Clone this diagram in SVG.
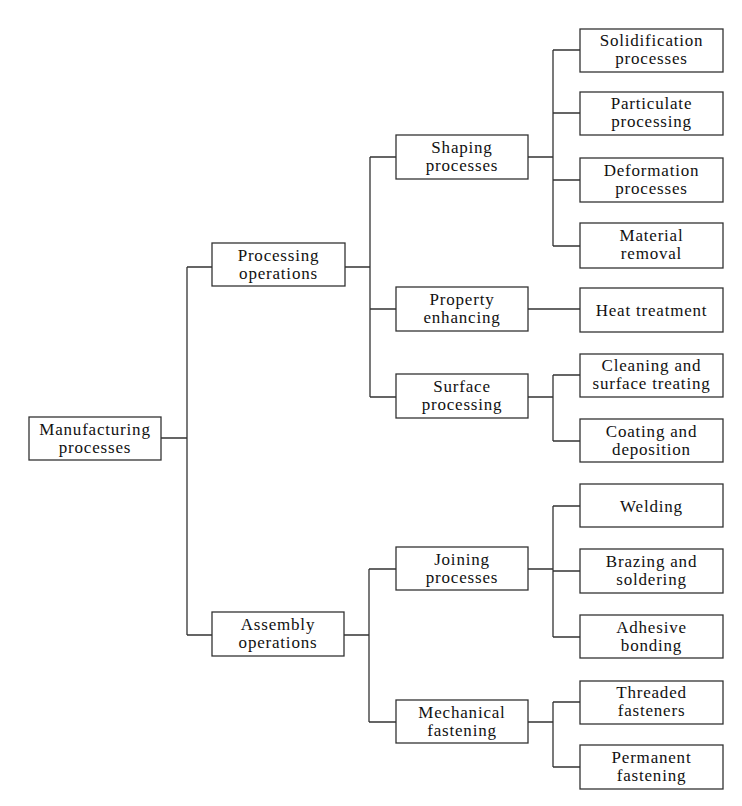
<svg xmlns="http://www.w3.org/2000/svg" width="742" height="806" viewBox="0 0 742 806">
<style>
rect{fill:#fff;stroke:#333;stroke-width:1.3}
line,path{stroke:#333;stroke-width:1.3;fill:none}
text{fill:#111;text-anchor:middle}
</style>
<rect x="0" y="0" width="742" height="806" style="fill:#fff;stroke:none"/>
<g id="connectors">
<path d="M161 438H187M187 267V635M187 267H212M187 635H212"/>
<path d="M345 267H370M370 157V397M370 157H396M370 309H396M370 397H396"/>
<path d="M528 157H553M553 50V246M553 50H580M553 113H580M553 180H580M553 246H580"/>
<path d="M528 309H580"/>
<path d="M528 397H553M553 375V441M553 375H580M553 441H580"/>
<path d="M344 635H369M369 569V722M369 569H396M369 722H396"/>
<path d="M528 569H553M553 506V637M553 506H580M553 571H580M553 637H580"/>
<path d="M528 722H553M553 702V767M553 702H580M553 767H580"/>
</g>
<g font-family="Liberation Serif, Times New Roman, serif" font-size="17" letter-spacing="0.8">
<g id="manufacturing"><rect x="29" y="417" width="132" height="43"/><text x="95" y="435">Manufacturing</text><text x="95" y="453">processes</text></g>
<g id="processing"><rect x="212" y="243" width="133" height="43"/><text x="278.5" y="261">Processing</text><text x="278.5" y="279">operations</text></g>
<g id="assembly"><rect x="212" y="612" width="132" height="44"/><text x="278" y="630">Assembly</text><text x="278" y="648">operations</text></g>
<g id="shaping"><rect x="396" y="135" width="132" height="44"/><text x="462" y="153">Shaping</text><text x="462" y="171">processes</text></g>
<g id="property"><rect x="396" y="287" width="132" height="44"/><text x="462" y="305">Property</text><text x="462" y="323">enhancing</text></g>
<g id="surface"><rect x="396" y="374" width="132" height="44"/><text x="462" y="392">Surface</text><text x="462" y="410">processing</text></g>
<g id="joining"><rect x="396" y="547" width="132" height="43"/><text x="462" y="565">Joining</text><text x="462" y="583">processes</text></g>
<g id="mechanical"><rect x="396" y="700" width="132" height="43"/><text x="462" y="718">Mechanical</text><text x="462" y="736">fastening</text></g>
<g id="solidification"><rect x="580" y="29" width="143" height="43"/><text x="651.5" y="46">Solidification</text><text x="651.5" y="64">processes</text></g>
<g id="particulate"><rect x="580" y="92" width="143" height="43"/><text x="651.5" y="109">Particulate</text><text x="651.5" y="127">processing</text></g>
<g id="deformation"><rect x="580" y="158" width="143" height="44"/><text x="651.5" y="176">Deformation</text><text x="651.5" y="194">processes</text></g>
<g id="material"><rect x="580" y="223" width="143" height="45"/><text x="651.5" y="241">Material</text><text x="651.5" y="259">removal</text></g>
<g id="heat"><rect x="580" y="288" width="143" height="44"/><text x="651.5" y="316">Heat treatment</text></g>
<g id="cleaning"><rect x="580" y="354" width="143" height="43"/><text x="651.5" y="371">Cleaning and</text><text x="651.5" y="389">surface treating</text></g>
<g id="coating"><rect x="580" y="419" width="143" height="43"/><text x="651.5" y="437">Coating and</text><text x="651.5" y="455">deposition</text></g>
<g id="welding"><rect x="580" y="484" width="143" height="43"/><text x="651.5" y="512">Welding</text></g>
<g id="brazing"><rect x="580" y="549" width="143" height="44"/><text x="651.5" y="567">Brazing and</text><text x="651.5" y="585">soldering</text></g>
<g id="adhesive"><rect x="580" y="615" width="143" height="43"/><text x="651.5" y="633">Adhesive</text><text x="651.5" y="651">bonding</text></g>
<g id="threaded"><rect x="580" y="681" width="143" height="43"/><text x="651.5" y="698">Threaded</text><text x="651.5" y="716">fasteners</text></g>
<g id="permanent"><rect x="580" y="745" width="143" height="44"/><text x="651.5" y="763">Permanent</text><text x="651.5" y="781">fastening</text></g>
</g>
</svg>
